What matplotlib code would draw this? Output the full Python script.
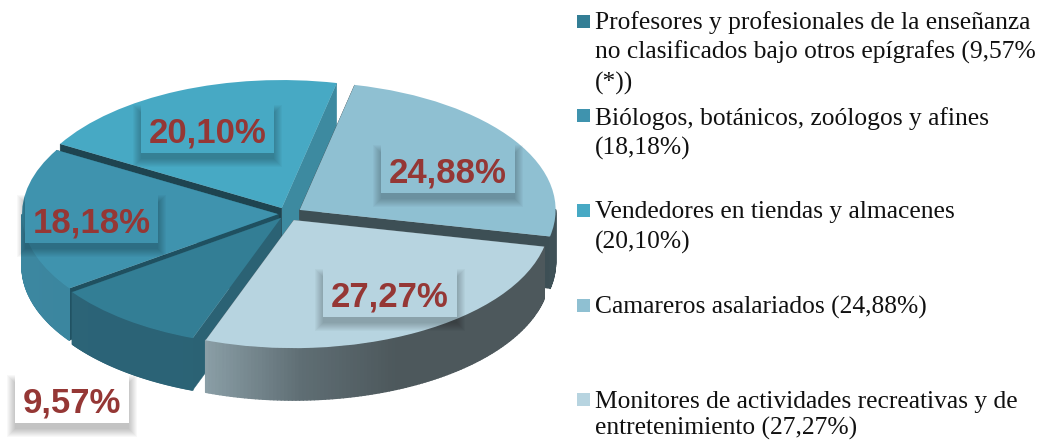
import matplotlib
matplotlib.use("Agg")
import matplotlib.pyplot as plt
import numpy as np
from matplotlib.colors import to_rgb
from matplotlib.patches import Polygon, Rectangle

# slices in drawing order around the pie
values = [20.10, 18.18, 9.57, 27.27, 24.88]
value_labels = ["20,10%", "18,18%", "9,57%", "27,27%", "24,88%"]
top_colors = ["#47a9c4", "#3f93ae", "#337e95", "#b7d4e0", "#8fc0d2"]
# pie() takes explode in data units, not as a share of the radius
explode = [13, 9, 10, 14, 15]

# wall colours: edge at theta1, edge at theta2, outer rim stops (left to right)
wall_start = ["#3d8aa0", "#2f7488", "#2b6274", "#5f6e74", "#3d4f55"]
wall_end = ["#1e4450", "#1f5060", "#2b6274", "#5f6e74", "#3d4f55"]
rim_stops = [
    ["#3d8aa0", "#3d8aa0", "#3d8aa0"],
    ["#3c87a0", "#38809a", "#33788f"],
    ["#2c6478", "#2a6274", "#215a6a"],
    ["#8a9ea6", "#5f6e74", "#4d585c"],
    ["#3f5157", "#3f5157", "#3f5157"],
]

legend_lines = [
    ["Profesores y profesionales de la enseñanza",
     "no clasificados bajo otros epígrafes (9,57%",
     "(*))"],
    ["Biólogos, botánicos, zoólogos y afines", "(18,18%)"],
    ["Vendedores en tiendas y almacenes", "(20,10%)"],
    ["Camareros asalariados (24,88%)"],
    ["Monitores de actividades recreativas y de", "entretenimiento (27,27%)"],
]
legend_colors = [top_colors[2], top_colors[1], top_colors[0], top_colors[4], top_colors[3]]
legend_baselines = [[29, 59, 90], [125, 155], [218, 249], [314], [408, 435]]
legend_box_top = [15, 109, 204, 299, 393]

# label box left/top in pixels, same order as values
box_pos = [(141, 105), (25, 195), (15, 375), (323, 269), (381, 145)]
box_size = [(133, 48), (133, 48), (114, 48), (134, 48), (134, 48)]
box_colors = ["#47a9c4", "#3f93ae", "#ffffff", "#b7d4e0", "#8fc0d2"]

# pie is drawn as a circle, the y axis below squashes it by 2
depth = 52 * 2
draw_order = [0, 4, 1, 2, 3]

fig = plt.figure(figsize=(10.41, 4.41), dpi=100)
ax = fig.add_axes([0, 0, 1, 1])
wedges, _ = ax.pie(values, explode=explode, startangle=77.6, colors=top_colors,
                   radius=256, center=(287, -428))
ax.set_aspect("auto")
ax.set_xlim(0, 1041)
ax.set_ylim(-882, 0)
ax.axis("off")


def rim_color(i, x):
    stops = [to_rgb(c) for c in rim_stops[i]]
    t = np.clip((x - wedges[i].center[0] + 256) / 512, 0, 1)
    if i == 3:
        t = np.clip((x - 207) / 190, 0, 1)
    pos = [0, 0.5, 1]
    return [np.interp(t, pos, [s[k] for s in stops]) for k in range(3)]


for n, i in enumerate(draw_order):
    w = wedges[i]
    z = 2 + n
    cx, cy = w.center
    r = w.r
    t1 = np.radians(w.theta1)
    t2 = np.radians(w.theta2)

    # straight side walls
    for t, col in [(t1, wall_start[i]), (t2, wall_end[i])]:
        x, y = cx + r * np.cos(t), cy + r * np.sin(t)
        ax.add_patch(Polygon([(cx, cy), (x, y), (x, y - depth), (cx, cy - depth)],
                             facecolor=col, edgecolor=col, lw=0.3, zorder=z))

    # outer rim, small strips for the horizontal gradient
    angles = np.linspace(t1, t2, 120)
    for a, b in zip(angles[:-1], angles[1:]):
        if np.sin((a + b) / 2) >= 0:
            continue
        xa, ya = cx + r * np.cos(a), cy + r * np.sin(a)
        xb, yb = cx + r * np.cos(b), cy + r * np.sin(b)
        col = rim_color(i, (xa + xb) / 2)
        ax.add_patch(Polygon([(xa, ya), (xb, yb), (xb, yb - depth), (xa, ya - depth)],
                             facecolor=col, edgecolor=col, lw=1.0, zorder=z + 0.1,
                             joinstyle="round"))

    w.set_zorder(z + 0.2)

# second axes in pixels for labels and legend
ax2 = fig.add_axes([0, 0, 1, 1])
ax2.set_xlim(0, 1041)
ax2.set_ylim(441, 0)
ax2.axis("off")
ax2.patch.set_alpha(0)

for i, label in enumerate(value_labels):
    bx, by = box_pos[i]
    bw, bh = box_size[i]
    # soft shadow, mostly below the box
    for k in range(9, 0, -1):
        ax2.add_patch(Rectangle((bx - k + 1, by + 9 - k), bw + 2 * k - 2, bh + 2 * k - 4,
                                facecolor="black", edgecolor="none", alpha=0.028))
    ax2.add_patch(Rectangle((bx, by), bw, bh, facecolor=box_colors[i], edgecolor="none"))
    ax2.text(bx + bw / 2, by + 37, label, ha="center", va="baseline",
             family="Liberation Sans", fontweight="bold", fontsize=25, color="#953735")

for i, lines in enumerate(legend_lines):
    ax2.add_patch(Rectangle((577, legend_box_top[i]), 13, 13,
                            facecolor=legend_colors[i], edgecolor="none"))
    for line, base in zip(lines, legend_baselines[i]):
        ax2.text(595, base, line, ha="left", va="baseline",
                 family="Liberation Serif", fontsize=18.35, color="#111111")

fig.savefig("out.png", dpi=100)
